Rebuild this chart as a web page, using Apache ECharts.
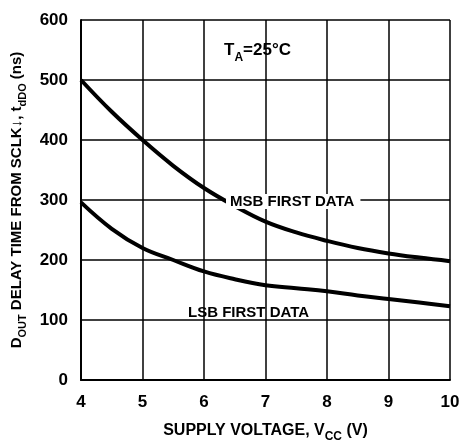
<!DOCTYPE html>
<html><head><meta charset="utf-8">
<script src="https://cdn.jsdelivr.net/npm/echarts@6/dist/echarts.min.js"></script>
<style>html,body{margin:0;padding:0;background:#fff}#c{width:463px;height:448px}</style>
</head><body><div id="c"></div>
<script>
const voltage = [4, 4.5, 5, 5.5, 6, 6.5, 7, 7.5, 8, 8.5, 9, 9.5, 10];
const msbDelay = [500, 447, 400, 357, 320, 290, 264, 246, 232, 220, 211, 204, 198];
const lsbDelay = [296, 252, 220, 200, 181, 168, 158, 153, 148, 141, 135, 129, 123];
const xTicks = [4, 5, 6, 7, 8, 9, 10];
const yTicks = [0, 100, 200, 300, 400, 500, 600];

const FONT = '"Liberation Sans Narrow", "Liberation Sans", Arial, sans-serif';
const chart = echarts.init(document.getElementById('c'));
const toPairs = (xs, ys) => xs.map((x, i) => [x, ys[i]]);
const sub = {fontFamily: FONT, fontSize: 11, fontWeight: 'bold', color: '#000', verticalAlign: 'bottom', padding: [0,0,-4,0]};
const base = {fontFamily: FONT, fontSize: 15, fontWeight: 'bold', color: '#000'};
const xBase = {fontFamily: FONT, fontSize: 16, fontWeight: 'bold', color: '#000'};
const xSub = {fontFamily: FONT, fontSize: 12, fontWeight: 'bold', color: '#000', verticalAlign: 'bottom', padding: [0,0,-4,0]};
const big = {fontFamily: FONT, fontSize: 17, fontWeight: 'bold', color: '#000'};
const bigSub = {fontFamily: FONT, fontSize: 12, fontWeight: 'bold', color: '#000', verticalAlign: 'bottom', padding: [0,0,-5,0]};

chart.setOption({
  animation: false,
  backgroundColor: '#fff',
  grid: {left: 81, right: 13, top: 20, bottom: 59, show: false},
  xAxis: {
    type: 'value', min: 4, max: 10, interval: 1,
    axisLine: {show: true, onZero: false, lineStyle: {color: '#000', width: 2}},
    axisTick: {show: false},
    splitLine: {show: true, lineStyle: {color: '#000', width: 1.5}},
    axisLabel: {fontFamily: FONT, fontSize: 17, fontWeight: 'bold', color: '#000', margin: 14,
      formatter: v => xTicks.includes(v) ? String(v) : ''},
    name: '{b|SUPPLY VOLTAGE, V}{s|CC}{b| (V)}',
    nameLocation: 'middle', nameGap: 43,
    nameTextStyle: {rich: {b: xBase, s: xSub}}
  },
  yAxis: {
    type: 'value', min: 0, max: 600, interval: 100,
    axisLine: {show: true, lineStyle: {color: '#000', width: 2}},
    axisTick: {show: false},
    splitLine: {show: true, lineStyle: {color: '#000', width: 1.5}},
    axisLabel: {fontFamily: FONT, fontSize: 17, fontWeight: 'bold', color: '#000', margin: 13,
      formatter: v => yTicks.includes(v) ? String(v) : ''},
    name: '{b|D}{s|OUT}{b| DELAY TIME FROM SCLK\u2193, t}{s|dDO}{b| (ns)}',
    nameLocation: 'middle', nameGap: 42, nameRotate: 90,
    nameTextStyle: {rich: {b: base, s: sub}}
  },
  series: [
    {type: 'line', data: toPairs(voltage, msbDelay), smooth: 0.4, symbol: 'none',
     lineStyle: {color: '#000', width: 4}, z: 3},
    {type: 'line', data: toPairs(voltage, lsbDelay), smooth: 0.4, symbol: 'none',
     lineStyle: {color: '#000', width: 4}, z: 3}
  ],
  graphic: [
    {type: 'text', left: 224, top: 42, z: 10,
     style: {text: '{b|T}{s|A}{b|=25\u00b0C}', rich: {b: big, s: bigSub}}},
    {type: 'text', left: 226, top: 194, z: 10,
     style: {text: 'MSB FIRST DATA', fontFamily: FONT, fontSize: 15, fontWeight: 'bold', fill: '#000',
       backgroundColor: '#fff', padding: [0, 6, 0, 4]}},
    {type: 'text', left: 188, top: 305, z: 10,
     style: {text: 'LSB FIRST DATA', fontFamily: FONT, fontSize: 15, fontWeight: 'bold', fill: '#000'}}
  ]
});
</script></body></html>
